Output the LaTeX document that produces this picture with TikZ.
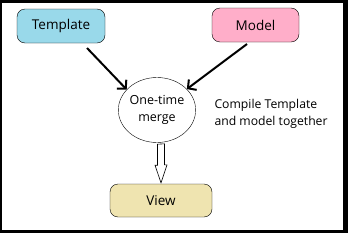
\documentclass[tikz,border=0pt]{standalone}
\usepackage{fontspec}
\setmainfont{Open Sans}
\usepackage{tikz}
\usetikzlibrary{arrows.meta, positioning, calc, shapes.geometric}
\definecolor{tplblue}{RGB}{153,217,234}
\definecolor{mdlpink}{RGB}{255,174,201}
\definecolor{viewtan}{RGB}{239,228,176}

\begin{document}
\begin{tikzpicture}[
    x=1pt, y=-1pt,
    box/.style={draw, rounded corners=8pt, fill=#1, minimum width=88pt, minimum height=34pt, align=center, font=\fontsize{13.5}{15}\selectfont},
    merger/.style={draw, ellipse, minimum width=71pt, minimum height=65pt, inner sep=0pt, align=center, font=\fontsize{12.5}{17}\selectfont},
    feed/.style={line width=2pt, -{Straight Barb[length=6pt, width=13pt, line width=2pt]}},
    blockarrow/.style={draw, fill=white, line width=0.6pt, line join=miter},
]
    % frame
    \fill[black] (0,0) rectangle (348,233);
    \fill[white] (2,3) rectangle (343,230);

    \node[box=tplblue] (tpl) at (61, 26) {Template};
    \node[box=mdlpink, minimum width=87pt] (mdl) at (255.5, 25) {Model};
    \node[merger] (merge) at (157, 110) {One-time\\merge};
    \node[box=viewtan, minimum width=102pt, minimum height=33pt] (view) at (161, 200.5) {View};
    \node[anchor=west, align=left, font=\fontsize{12.2}{17}\selectfont] (note) at (211, 114) {Compile Template\\and model together};

    \coordinate (tplout) at (87, 48);
    \coordinate (mdlout) at (247, 44);
    \draw[feed] (tplout) -- (merge.146);
    \draw[feed] (mdlout) -- (merge.35);

    % hollow arrow down to the view
    \draw[blockarrow] ($(merge.south -| view.north)+(-3.5,1.5)$) -- ++(0,21) -- ++(-2.5,0)
        -- ($(view.north)+(0,-1)$) -- ++(6,-18) -- ++(-2.5,0) -- ++(0,-21) -- cycle;
\end{tikzpicture}
\end{document}
